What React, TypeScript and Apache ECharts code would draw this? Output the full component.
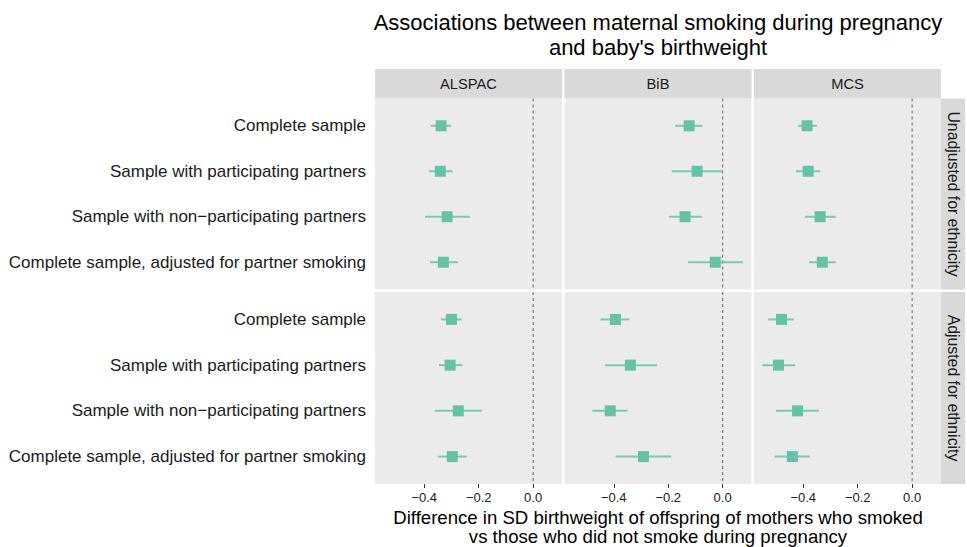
import React, { useEffect, useRef } from "react";
import * as echarts from "echarts";

// ---- Data ----
const cohorts = ["ALSPAC", "BiB", "MCS"];
const adjustments = ["Unadjusted for ethnicity", "Adjusted for ethnicity"];
const rowLabels = [
  "Complete sample",
  "Sample with participating partners",
  "Sample with non\u2212participating partners",
  "Complete sample, adjusted for partner smoking",
];
const xTicks = [-0.4, -0.2, 0.0];

// Unadjusted
const alspacUnadjEst = [-0.338, -0.341, -0.316, -0.33];
const alspacUnadjLo = [-0.376, -0.382, -0.397, -0.379];
const alspacUnadjHi = [-0.301, -0.296, -0.233, -0.277];
const bibUnadjEst = [-0.123, -0.094, -0.138, -0.027];
const bibUnadjLo = [-0.175, -0.187, -0.197, -0.127];
const bibUnadjHi = [-0.074, 0.0, -0.077, 0.075];
const mcsUnadjEst = [-0.386, -0.382, -0.338, -0.33];
const mcsUnadjLo = [-0.419, -0.427, -0.394, -0.379];
const mcsUnadjHi = [-0.35, -0.338, -0.281, -0.281];
// Adjusted for ethnicity
const alspacAdjEst = [-0.3, -0.305, -0.275, -0.297];
const alspacAdjLo = [-0.339, -0.346, -0.361, -0.35];
const alspacAdjHi = [-0.262, -0.259, -0.188, -0.244];
const bibAdjEst = [-0.394, -0.339, -0.413, -0.291];
const bibAdjLo = [-0.449, -0.432, -0.479, -0.393];
const bibAdjHi = [-0.343, -0.241, -0.349, -0.189];
const mcsAdjEst = [-0.48, -0.491, -0.421, -0.44];
const mcsAdjLo = [-0.529, -0.55, -0.5, -0.506];
const mcsAdjHi = [-0.435, -0.43, -0.343, -0.376];

const panels = [
  [
    [alspacUnadjEst, alspacUnadjLo, alspacUnadjHi],
    [bibUnadjEst, bibUnadjLo, bibUnadjHi],
    [mcsUnadjEst, mcsUnadjLo, mcsUnadjHi],
  ],
  [
    [alspacAdjEst, alspacAdjLo, alspacAdjHi],
    [bibAdjEst, bibAdjLo, bibAdjHi],
    [mcsAdjEst, mcsAdjLo, mcsAdjHi],
  ],
];

const FONT = "'Liberation Sans', Arial, Helvetica, sans-serif";
const GREEN = "#66C2A5";

export default function App() {
  const ref = useRef<HTMLDivElement>(null);
  useEffect(() => {
    if (!ref.current) return;
    const chart = echarts.init(ref.current, undefined, { renderer: "svg" });

    const colLeft = [375, 564.5, 754];
    const colW = 187;
    const rowTop = [98.5, 292];
    const rowH = [191, 192];
    const stripTop = 69;

    const grids: any[] = [];
    const xAxes: any[] = [];
    const yAxes: any[] = [];
    const series: any[] = [];
    const graphics: any[] = [];

    let gi = 0;
    for (let r = 0; r < 2; r++) {
      for (let c = 0; c < 3; c++) {
        grids.push({
          left: colLeft[c],
          top: rowTop[r],
          width: colW,
          height: rowH[r],
          show: true,
          backgroundColor: "#EBEBEB",
          borderWidth: 0,
        });
        const bottom = r === 1;
        xAxes.push({
          type: "value",
          gridIndex: gi,
          position: "bottom",
          min: -0.581,
          max: 0.106,
          splitLine: { show: false },
          axisLine: { show: false, onZero: false },
          axisTick: bottom
            ? {
                show: true,
                length: 4,
                customValues: xTicks,
                lineStyle: { color: "#333333", width: 1 },
              }
            : { show: false },
          axisLabel: bottom
            ? {
                show: true,
                customValues: xTicks,
                fontFamily: FONT,
                fontSize: 13,
                color: "#1A1A1A",
                margin: 7,
                formatter: (v: number) =>
                  (v < 0 ? "\u2212" : "") + Math.abs(v).toFixed(1),
              }
            : { show: false },
        });
        yAxes.push({
          type: "value",
          gridIndex: gi,
          position: "left",
          min: -0.6,
          max: 3.6,
          inverse: true,
          splitLine: { show: false },
          axisLine: { show: false, onZero: false },
          axisTick: { show: false },
          axisLabel:
            c === 0
              ? {
                  show: true,
                  customValues: [0, 1, 2, 3],
                  fontFamily: FONT,
                  fontSize: 17,
                  color: "#1A1A1A",
                  margin: 9,
                  formatter: (v: number) => rowLabels[Math.round(v)] ?? "",
                }
              : { show: false },
        });
        const [est, lo, hi] = panels[r][c];
        series.push({
          type: "line",
          xAxisIndex: gi,
          yAxisIndex: gi,
          data: [
            [0, -0.6],
            [0, 3.6],
          ],
          symbol: "none",
          silent: true,
          lineStyle: { color: "#666666", width: 1, type: [3, 3] },
          z: 1,
        });
        series.push({
          type: "custom",
          xAxisIndex: gi,
          yAxisIndex: gi,
          data: est.map((e, i) => [e, i, lo[i], hi[i]]),
          encode: { x: 0, y: 1 },
          z: 3,
          renderItem: (params: any, api: any) => {
            const e = api.value(0);
            const y = api.value(1);
            const l = api.value(2);
            const h = api.value(3);
            const pc = api.coord([e, y]);
            const pl = api.coord([l, y]);
            const ph = api.coord([h, y]);
            const s = 11;
            return {
              type: "group",
              children: [
                {
                  type: "line",
                  shape: { x1: pl[0], y1: pl[1], x2: ph[0], y2: ph[1] },
                  style: { stroke: GREEN, lineWidth: 2, opacity: 0.85 },
                },
                {
                  type: "rect",
                  shape: { x: pc[0] - s / 2, y: pc[1] - s / 2, width: s, height: s },
                  style: { fill: GREEN },
                },
              ],
            };
          },
        });
        gi++;
      }
    }

    // Top strips
    for (let c = 0; c < 3; c++) {
      graphics.push({
        type: "rect",
        shape: { x: colLeft[c], y: stripTop, width: colW, height: rowTop[0] - stripTop },
        style: { fill: "#D9D9D9" },
        silent: true,
      });
      graphics.push({
        type: "text",
        x: colLeft[c] + colW / 2,
        y: (stripTop + rowTop[0]) / 2,
        style: {
          text: cohorts[c],
          fontFamily: FONT,
          fontSize: 14.7,
          fill: "#1A1A1A",
          align: "center",
          verticalAlign: "middle",
        },
      });
    }
    // Right strips
    const rsX = colLeft[2] + colW;
    const rsW = 24;
    for (let r = 0; r < 2; r++) {
      graphics.push({
        type: "rect",
        shape: { x: rsX, y: rowTop[r], width: rsW, height: rowH[r] },
        style: { fill: "#D9D9D9" },
        silent: true,
      });
      graphics.push({
        type: "text",
        x: rsX + rsW / 2,
        y: rowTop[r] + rowH[r] / 2,
        rotation: -Math.PI / 2,
        style: {
          text: adjustments[r],
          fontFamily: FONT,
          fontSize: 15.8,
          fill: "#1A1A1A",
          align: "center",
          verticalAlign: "middle",
        },
      });
    }
    const cx = (colLeft[0] + colLeft[2] + colW) / 2;
    // Title
    graphics.push({
      type: "text",
      x: cx,
      y: 34.5,
      style: {
        text: "Associations between maternal smoking during pregnancy\nand baby's birthweight",
        fontFamily: FONT,
        fontSize: 22,
        lineHeight: 25,
        fill: "#000000",
        align: "center",
        verticalAlign: "middle",
      },
    });
    // X axis title
    graphics.push({
      type: "text",
      x: cx,
      y: 527,
      style: {
        text:
          "Difference in SD birthweight of offspring of mothers who smoked\nvs those who did not smoke during pregnancy",
        fontFamily: FONT,
        fontSize: 18.6,
        lineHeight: 19,
        fill: "#000000",
        align: "center",
        verticalAlign: "middle",
      },
    });

    chart.setOption({
      animation: false,
      backgroundColor: "#FFFFFF",
      grid: grids,
      xAxis: xAxes,
      yAxis: yAxes,
      series,
      graphic: graphics,
    });
    return () => chart.dispose();
  }, []);
  return (
    <div
      ref={ref}
      style={{ position: "absolute", left: 0, top: 0, width: 967, height: 547 }}
    />
  );
}
